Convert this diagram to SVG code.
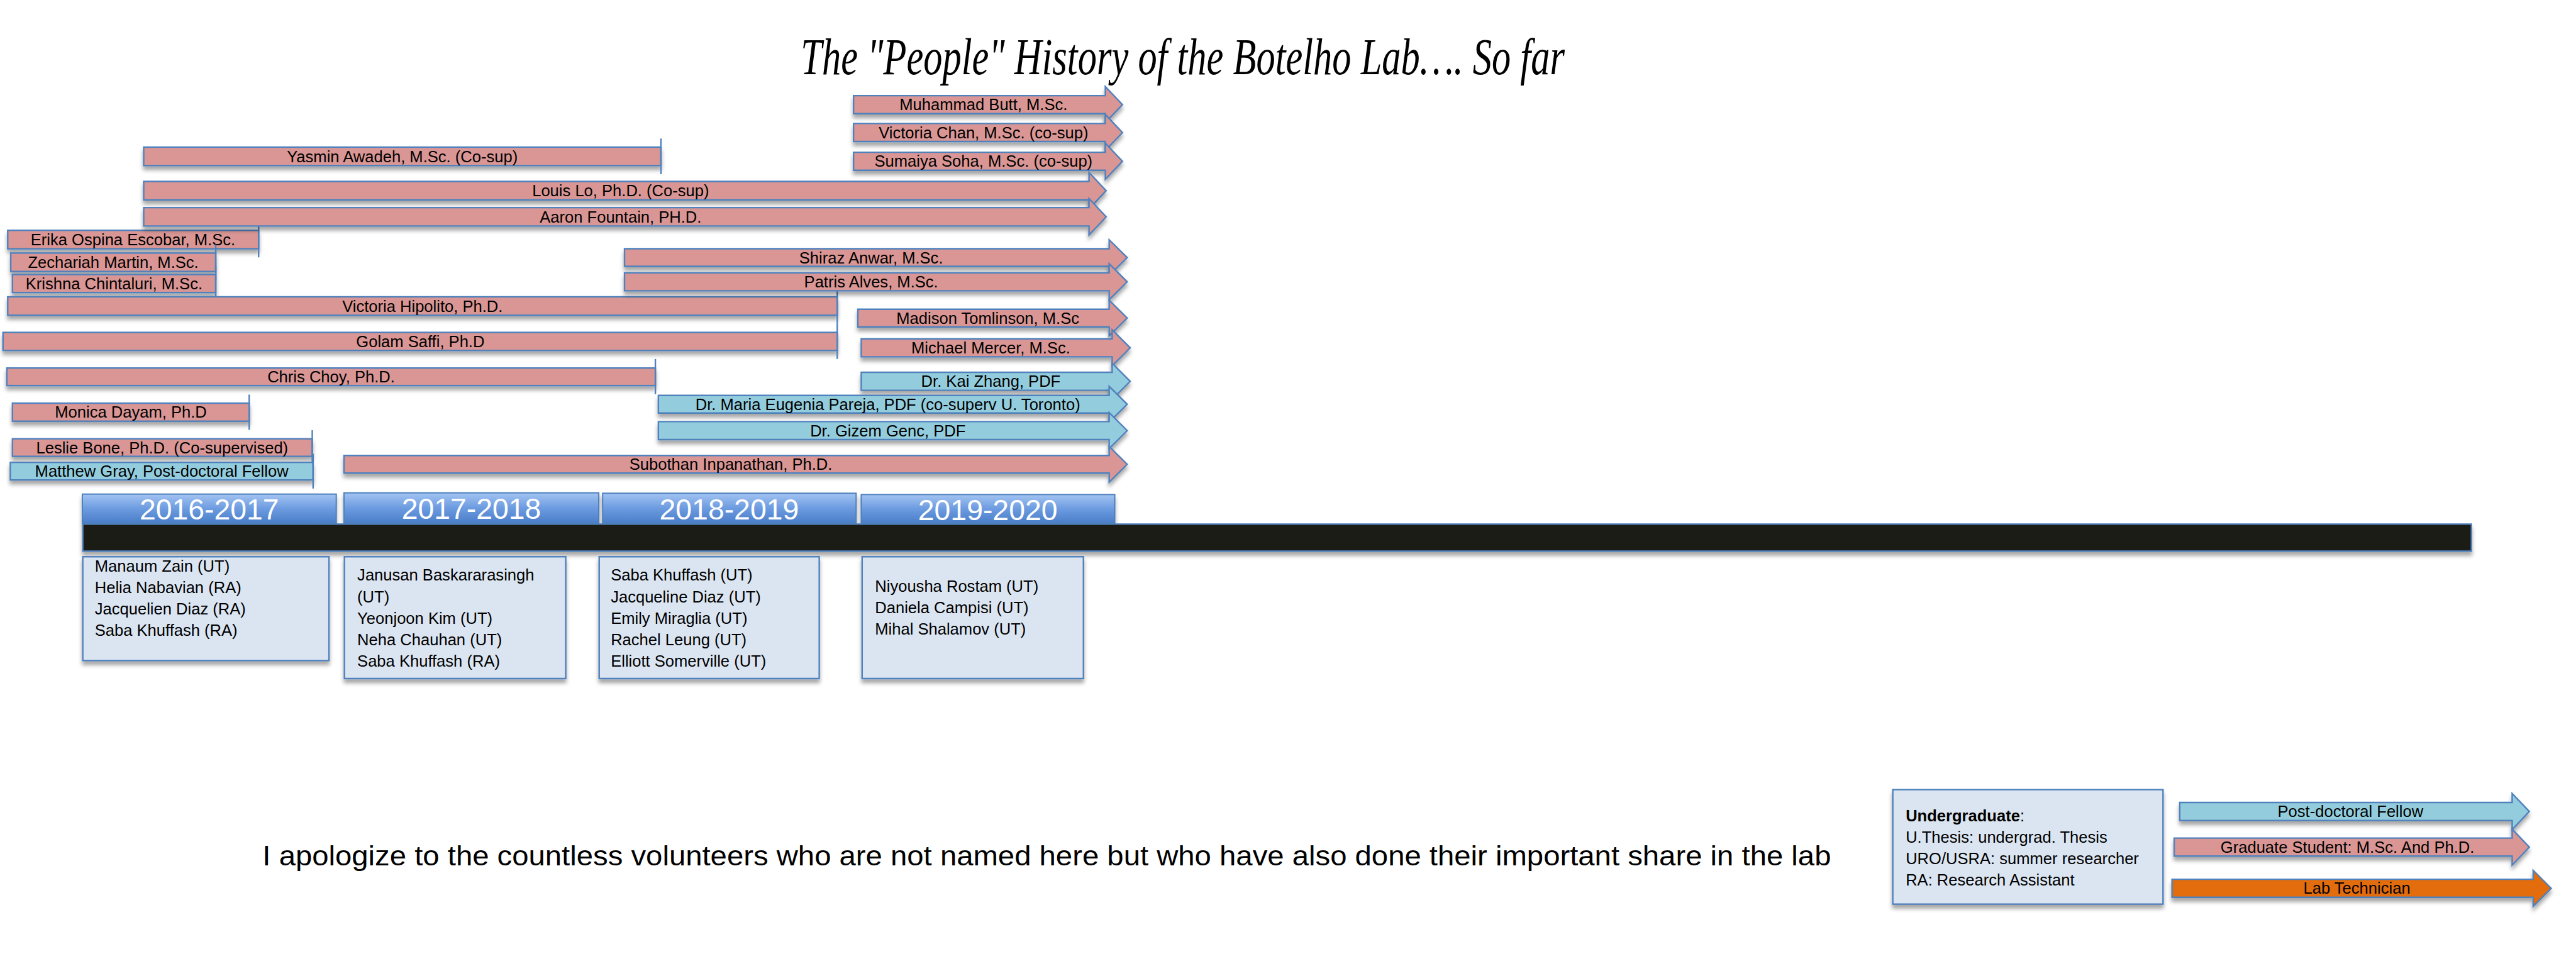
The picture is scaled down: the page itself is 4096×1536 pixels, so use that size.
<svg xmlns="http://www.w3.org/2000/svg" width="4096" height="1536" viewBox="0 0 4096 1536">
<defs>
<style>
.pk{fill:#D99694;stroke:#4F81BD;stroke-width:3.5}
.bl{fill:#93CDDD;stroke:#4F81BD;stroke-width:3.5}
.or{fill:#E36C09;stroke:#4F81BD;stroke-width:3.5}
.ln{stroke:#4F81BD;stroke-width:3.5;fill:none}
.ub{fill:#DBE5F1;stroke:#4F81BD;stroke-width:3.5}
.yb{fill:url(#yg);stroke:#4F81BD;stroke-width:3}
.t{font-family:"Liberation Sans",Arial,sans-serif;font-size:37.5px;fill:#000}
.c{text-anchor:middle}
.yr{font-family:"Liberation Sans",Arial,sans-serif;font-size:68px;fill:#fff;text-anchor:middle}
.sh{filter:url(#ds)}
</style>
<linearGradient id="yg" x1="0" y1="0" x2="0" y2="1">
<stop offset="0" stop-color="#A3C4F2"/>
<stop offset="0.5" stop-color="#6C9BE0"/>
<stop offset="1" stop-color="#4A7EC8"/>
</linearGradient>
<filter id="ds" x="-5%" y="-60%" width="110%" height="260%">
<feDropShadow dx="0" dy="9" stdDeviation="5" flood-color="#000" flood-opacity="0.35"/>
</filter>
</defs>
<rect width="4096" height="1536" fill="#fff"/>
<g transform="scale(0.682)">
<text id="title" x="1867" y="173" textLength="1781" lengthAdjust="spacingAndGlyphs" style="font-family:'Liberation Serif','Times New Roman',serif;font-style:italic;font-size:122px;fill:#000">The "People" History of the Botelho Lab…. So far</text>

<g id="yasmin"><rect class="pk sh" x="335" y="343" width="1206" height="43"/><line class="ln" x1="1541" y1="323" x2="1541" y2="406"/><text class="t c" x="938" y="378">Yasmin Awadeh, M.Sc. (Co-sup)</text></g>
<g id="erika"><rect class="pk sh" x="18" y="537" width="585" height="43"/><line class="ln" x1="603" y1="517" x2="603" y2="600"/><text class="t c" x="310" y="572">Erika Ospina Escobar, M.Sc.</text></g>
<g id="zechariah"><rect class="pk sh" x="25" y="590" width="478" height="43"/><line class="ln" x1="503" y1="570" x2="503" y2="653"/><text class="t c" x="264" y="625">Zechariah Martin, M.Sc.</text></g>
<g id="krishna"><rect class="pk sh" x="29" y="640" width="474" height="42"/><line class="ln" x1="503" y1="620" x2="503" y2="702"/><text class="t c" x="266" y="674">Krishna Chintaluri, M.Sc.</text></g>
<g id="victoria-hipolito"><rect class="pk sh" x="18" y="692" width="1934" height="43"/><line class="ln" x1="1952" y1="672" x2="1952" y2="755"/><text class="t c" x="985" y="727">Victoria Hipolito, Ph.D.</text></g>
<g id="golam"><rect class="pk sh" x="7" y="775" width="1945" height="42"/><line class="ln" x1="1952" y1="755" x2="1952" y2="837"/><text class="t c" x="980" y="809">Golam Saffi, Ph.D</text></g>
<g id="chris"><rect class="pk sh" x="16" y="858" width="1512" height="41"/><line class="ln" x1="1528" y1="837" x2="1528" y2="919"/><text class="t c" x="772" y="892">Chris Choy, Ph.D.</text></g>
<g id="monica"><rect class="pk sh" x="29" y="940" width="552" height="42"/><line class="ln" x1="581" y1="920" x2="581" y2="1002"/><text class="t c" x="305" y="974">Monica Dayam, Ph.D</text></g>
<g id="leslie"><rect class="pk sh" x="29" y="1023" width="699" height="41"/><line class="ln" x1="728" y1="1003" x2="728" y2="1084"/><text class="t c" x="378" y="1057">Leslie Bone, Ph.D. (Co-supervised)</text></g>
<g id="matthew"><rect class="bl sh" x="24" y="1078" width="706" height="41"/><line class="ln" x1="730" y1="1058" x2="730" y2="1139"/><text class="t c" x="377" y="1112">Matthew Gray, Post-doctoral Fellow</text></g>

<g id="muhammad"><path class="pk sh" d="M1990,223 H2577 V202 L2617,244 L2577,286 V265 H1990 Z"/><text class="t c" x="2293" y="257">Muhammad Butt, M.Sc.</text></g>
<g id="victoria-chan"><path class="pk sh" d="M1990,288 H2577 V267 L2617,309 L2577,351 V330 H1990 Z"/><text class="t c" x="2293" y="322">Victoria Chan, M.Sc. (co-sup)</text></g>
<g id="sumaiya"><path class="pk sh" d="M1990,355 H2577 V334 L2617,376 L2577,418 V397 H1990 Z"/><text class="t c" x="2293" y="389">Sumaiya Soha, M.Sc. (co-sup)</text></g>
<g id="louis"><path class="pk sh" d="M335,423 H2539 V402 L2579,444.5 L2539,487 V466 H335 Z"/><text class="t c" x="1447" y="458">Louis Lo, Ph.D. (Co-sup)</text></g>
<g id="aaron"><path class="pk sh" d="M335,484 H2539 V463 L2579,505.5 L2539,548 V527 H335 Z"/><text class="t c" x="1447" y="519">Aaron Fountain, PH.D.</text></g>
<g id="shiraz"><path class="pk sh" d="M1456,580 H2586 V559 L2628,600.5 L2586,642 V621 H1456 Z"/><text class="t c" x="2031" y="614">Shiraz Anwar, M.Sc.</text></g>
<g id="patris"><path class="pk sh" d="M1456,636 H2586 V615 L2628,657 L2586,699 V678 H1456 Z"/><text class="t c" x="2031" y="670">Patris Alves, M.Sc.</text></g>
<g id="madison"><path class="pk sh" d="M2000,721 H2586 V700 L2628,741.5 L2586,783 V762 H2000 Z"/><text class="t c" x="2303" y="755">Madison Tomlinson, M.Sc</text></g>
<g id="michael"><path class="pk sh" d="M2008,790 H2593 V769 L2635,811 L2593,853 V832 H2008 Z"/><text class="t c" x="2310" y="824">Michael Mercer, M.Sc.</text></g>
<g id="kai"><path class="bl sh" d="M2008,868 H2593 V847 L2635,889 L2593,931 V910 H2008 Z"/><text class="t c" x="2310" y="902">Dr. Kai Zhang, PDF</text></g>
<g id="maria"><path class="bl sh" d="M1535,922 H2586 V901 L2628,942.5 L2586,984 V963 H1535 Z"/><text class="t c" x="2070" y="956">Dr. Maria Eugenia Pareja, PDF (co-superv U. Toronto)</text></g>
<g id="gizem"><path class="bl sh" d="M1535,983 H2586 V962 L2628,1004 L2586,1046 V1025 H1535 Z"/><text class="t c" x="2070" y="1017">Dr. Gizem Genc, PDF</text></g>
<g id="subothan"><path class="pk sh" d="M802,1062 H2586 V1041 L2628,1082.5 L2586,1124 V1103 H802 Z"/><text class="t c" x="1704" y="1096">Subothan Inpanathan, Ph.D.</text></g>

<g id="year-2016"><rect class="yb sh" x="192" y="1152" width="592" height="68"/><text class="yr" x="488" y="1211">2016-2017</text></g>
<g id="year-2017"><rect class="yb sh" x="802" y="1149" width="594" height="71"/><text class="yr" x="1099" y="1210">2017-2018</text></g>
<g id="year-2018"><rect class="yb sh" x="1405" y="1150" width="591" height="70"/><text class="yr" x="1700" y="1211">2018-2019</text></g>
<g id="year-2019"><rect class="yb sh" x="2008" y="1153" width="591" height="67"/><text class="yr" x="2303" y="1212">2019-2020</text></g>

<g id="timeline"><rect class="sh" x="193" y="1222" width="5569" height="63" fill="#1D1B14" stroke="#4F81BD" stroke-width="3.5"/></g>

<g id="ug-2016"><rect class="ub sh" x="193" y="1298" width="574" height="242"/>
<text class="t" x="221" y="1333">Manaum Zain (UT)</text><text class="t" x="221" y="1383">Helia Nabavian (RA)</text><text class="t" x="221" y="1433">Jacquelien Diaz (RA)</text><text class="t" x="221" y="1483">Saba Khuffash (RA)</text></g>
<g id="ug-2017"><rect class="ub sh" x="803" y="1298" width="516" height="284"/>
<text class="t" x="833" y="1354">Janusan Baskararasingh</text><text class="t" x="833" y="1404">(UT)</text><text class="t" x="833" y="1454">Yeonjoon Kim (UT)</text><text class="t" x="833" y="1504">Neha Chauhan (UT)</text><text class="t" x="833" y="1554">Saba Khuffash (RA)</text></g>
<g id="ug-2018"><rect class="ub sh" x="1397" y="1298" width="513" height="284"/>
<text class="t" x="1424" y="1354">Saba Khuffash (UT)</text><text class="t" x="1424" y="1404">Jacqueline Diaz (UT)</text><text class="t" x="1424" y="1454">Emily Miraglia (UT)</text><text class="t" x="1424" y="1504">Rachel Leung (UT)</text><text class="t" x="1424" y="1554">Elliott Somerville (UT)</text></g>
<g id="ug-2019"><rect class="ub sh" x="2010" y="1298" width="516" height="284"/>
<text class="t" x="2040" y="1380">Niyousha Rostam (UT)</text><text class="t" x="2040" y="1430">Daniela Campisi (UT)</text><text class="t" x="2040" y="1480">Mihal Shalamov (UT)</text></g>

<text id="footer" class="t" x="612" y="2018" style="font-size:66px" textLength="3657" lengthAdjust="spacingAndGlyphs">I apologize to the countless volunteers who are not named here but who have also done their important share in the lab</text>

<g id="legend-undergrad"><rect class="ub sh" x="4413" y="1841" width="630" height="267"/>
<text class="t" x="4443" y="1915"><tspan font-weight="bold">Undergraduate</tspan>:</text><text class="t" x="4443" y="1965">U.Thesis: undergrad. Thesis</text><text class="t" x="4443" y="2015">URO/USRA: summer researcher</text><text class="t" x="4443" y="2065">RA: Research Assistant</text></g>
<g id="legend-postdoc"><path class="bl sh" d="M5082,1871 H5857 V1850 L5897,1892 L5857,1934 V1913 H5082 Z"/><text class="t c" x="5480" y="1905">Post-doctoral Fellow</text></g>
<g id="legend-grad"><path class="pk sh" d="M5069,1954 H5857 V1933 L5897,1975 L5857,2017 V1996 H5069 Z"/><text class="t c" x="5473" y="1988">Graduate Student: M.Sc. And Ph.D.</text></g>
<g id="legend-tech"><path class="or sh" d="M5064,2050 H5906 V2029 L5948,2071 L5906,2113 V2092 H5064 Z"/><text class="t c" x="5495" y="2084">Lab Technician</text></g>
<g id="connectors"/>
</g>
</svg>
